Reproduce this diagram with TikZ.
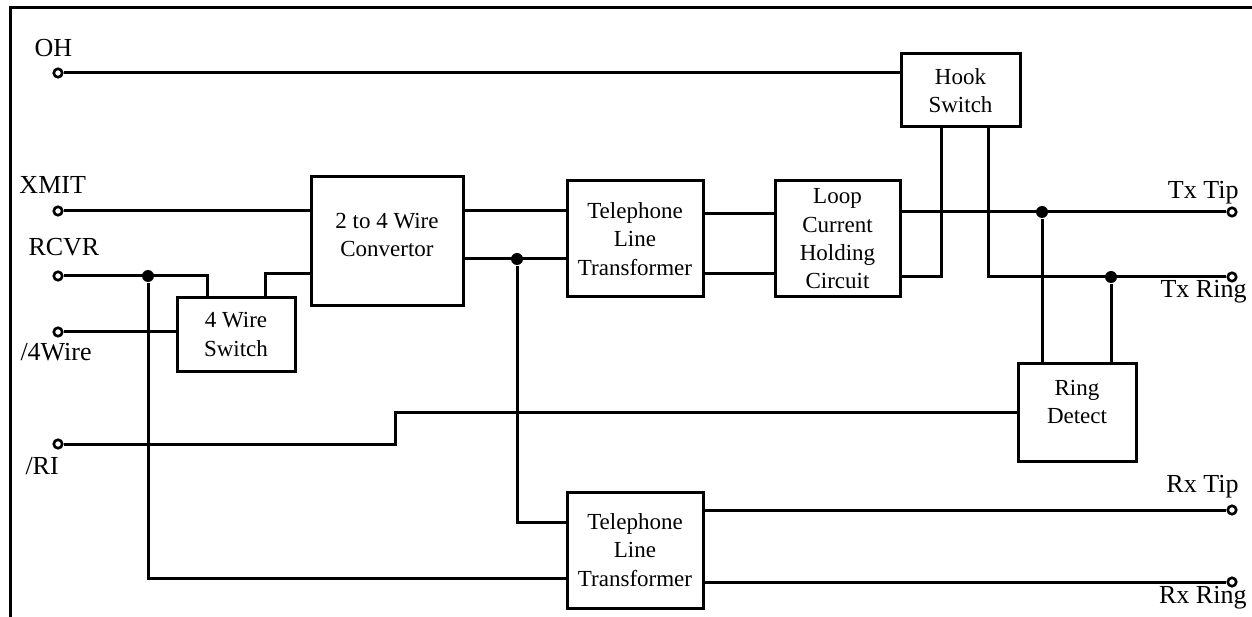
\documentclass[tikz,border=0pt]{standalone}
\usepackage{fontspec}
\setmainfont{Liberation Serif}
\begin{document}
\begin{tikzpicture}[x=1pt, y=-1pt, line width=3pt,
    blk/.style={draw, line width=3pt, align=center, inner sep=0pt, font=\fontsize{23}{28.3}\selectfont},
    blktxt/.style={align=center, inner sep=0pt, font=\fontsize{23}{28.3}\selectfont},
    term/.style={draw, circle, fill=white, line width=2.6pt, minimum size=8.5pt, inner sep=0pt},
    dot/.style={circle, fill=black, minimum size=12pt, inner sep=0pt},
    lbl/.style={inner sep=0pt, font=\fontsize{26}{30}\selectfont}]
    \useasboundingbox (0,0) rectangle (1252,617);
    \draw (10,617) -- (10,8) -- (1252,8);
    % blocks
    \node (hook) [blk, minimum width=119pt, minimum height=73pt] at (960.5,90.5) {Hook\\Switch};
    \node (conv) [blk, minimum width=152pt, minimum height=129pt, label={[blktxt, yshift=6.5pt]center:2 to 4 Wire\\Convertor}] at (387,241.5) {};
    \node (sw4) [blk, minimum width=118pt, minimum height=73pt] at (236,334.5) {4 Wire\\Switch};
    \node (xfu) [blk, minimum width=136pt, minimum height=116pt] at (635,239) {Telephone\\Line\\Transformer};
    \node (loop) [blk, minimum width=125pt, minimum height=116pt] at (837.5,239) {Loop\\Current\\Holding\\Circuit};
    \node (ring) [blk, minimum width=118pt, minimum height=98pt, label={[blktxt, yshift=10pt]center:Ring\\Detect}] at (1077,412) {};
    \node (xfl) [blk, minimum width=136pt, minimum height=116pt] at (635,550) {Telephone\\Line\\Transformer};
    % terminals
    \node (oh) [term] at (58,73) {};
    \node (xmit) [term] at (58,211) {};
    \node (rcvr) [term] at (58,276) {};
    \node (fourw) [term] at (58,332) {};
    \node (ri) [term] at (58,444) {};
    \node (txtip) [term] at (1232,212) {};
    \node (txring) [term] at (1232,277) {};
    \node (rxtip) [term] at (1232,510) {};
    \node (rxring) [term] at (1232,582) {};
    \node (ohlbl) [lbl, anchor=base west] at (33,57) {OH};
    \node (xmitlbl) [lbl, anchor=base west] at (18,194) {XMIT};
    \node (rcvrlbl) [lbl, anchor=base west] at (27,256) {RCVR};
    \node (fourwlbl) [lbl, anchor=base west] at (19,360) {/4Wire};
    \node (rilbl) [lbl, anchor=base west] at (24,474) {/RI};
    \node (txtiplbl) [lbl, anchor=base east] at (1240,199) {Tx Tip};
    \node (txringlbl) [lbl, anchor=base east] at (1248,298) {Tx Ring};
    \node (rxtiplbl) [lbl, anchor=base east] at (1240,492) {Rx Tip};
    \node (rxringlbl) [lbl, anchor=base east] at (1248,603) {Rx Ring};
    % junctions
    \node (j1) [dot] at (148,276) {};
    \node (j2) [dot] at (517,259) {};
    \node (j3) [dot] at (1042,212) {};
    \node (j4) [dot] at (1111,277) {};
    \coordinate (ribend) at (395,444);
    % wires
    \draw (oh) -- (oh -| hook.west);
    \draw (xmit) -- (xmit -| conv.west);
    \draw (rcvr) -| ([xshift=-29pt]sw4.north);
    \draw ([xshift=29pt]sw4.north) |- ([yshift=-32.5pt]conv.west);
    \draw (fourw) -- (fourw -| sw4.west);
    \draw (j1) |- ([yshift=-28pt]xfl.west);
    \draw (conv.east |- xmit) -- (xfu.west |- xmit);
    \draw (j2 -| conv.east) -- (j2 -| xfu.west);
    \draw (j2) |- ([yshift=28pt]xfl.west);
    \draw ([yshift=25pt]xfu.east) -- ([yshift=25pt]loop.west);
    \draw ([yshift=-35pt]xfu.east) -- ([yshift=-35pt]loop.west);
    \draw (txtip -| loop.east) -- (txtip);
    \draw ([yshift=-38pt]loop.east) -| ([xshift=-19.5pt]hook.south);
    \draw ([xshift=27.5pt]hook.south) |- (txring);
    \draw (j3) -- (j3 |- ring.north);
    \draw (j4) -- (j4 |- ring.north);
    \draw (ring.west) -| (ribend) -- (ri);
    \draw (rxtip -| xfl.east) -- (rxtip);
    \draw (rxring -| xfl.east) -- (rxring);
\end{tikzpicture}
\end{document}
